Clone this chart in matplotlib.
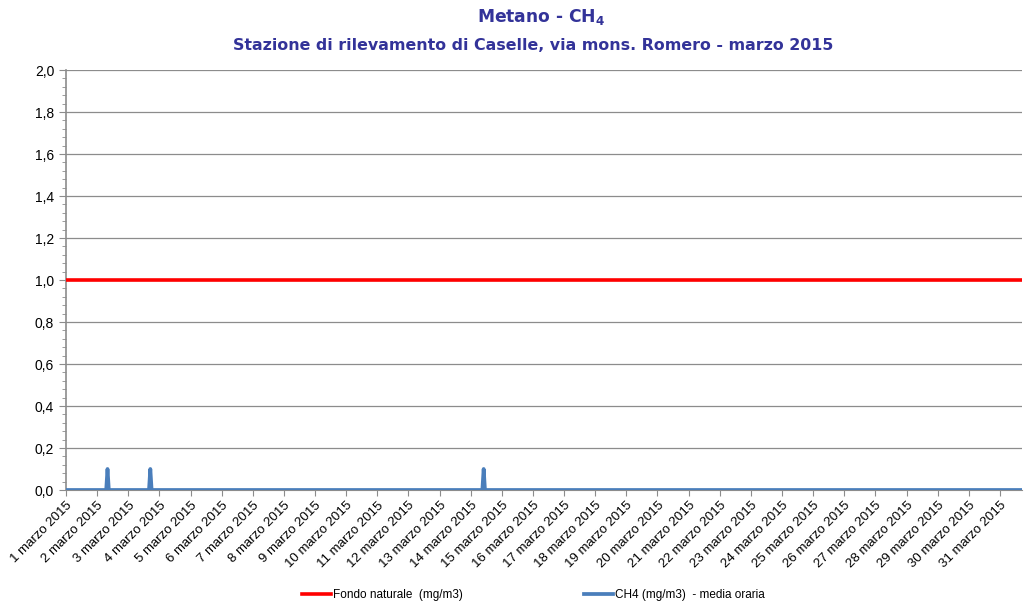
import numpy as np
import matplotlib
matplotlib.use("Agg")
import matplotlib.pyplot as plt
from matplotlib.ticker import MultipleLocator, FuncFormatter

# data: hourly CH4 values for March 2015 (mostly zero)
n_hours = 31 * 24
peak_hours = [32, 65, 322]
peak_values = [0.1, 0.1, 0.1]
fondo_naturale = 1.0
day_labels = ["%d marzo 2015" % d for d in range(1, 32)]

ch4 = np.zeros(n_hours)
ch4[peak_hours] = peak_values
t = np.arange(n_hours) / 24.0

plt.rcParams['font.family'] = ['Liberation Sans', 'DejaVu Sans']
plt.rcParams['mathtext.fontset'] = 'dejavusans'

fig = plt.figure(figsize=(10.24, 6.01), dpi=100)
ax = fig.add_axes([66 / 1024, 1 - 490 / 601, 956 / 1024, 420 / 601])

ax.plot([0, 31], [fondo_naturale, fondo_naturale], color='#ff0000', lw=2.6,
        label='Fondo naturale  (mg/m3)', zorder=3)
ax.plot(t, ch4, color='#4a7ebb', lw=2.7, label='CH4 (mg/m3)  - media oraria', zorder=4)

ax.set_xlim(0, 30.71)
ax.set_ylim(0, 2.0)
ax.yaxis.set_major_locator(MultipleLocator(0.2))
ax.yaxis.set_minor_locator(MultipleLocator(0.04))
ax.yaxis.set_major_formatter(FuncFormatter(lambda v, p: ("%.1f" % v).replace('.', ',')))
ax.grid(axis='y', which='major', color='#8c8c8c', lw=0.9)
ax.set_axisbelow(True)

ax.set_xticks(np.arange(31))
ax.set_xticklabels(day_labels, rotation=45, ha='right', rotation_mode='anchor', fontsize=9.5)
ax.tick_params(axis='x', length=4, color='#8c8c8c', pad=3)
ax.tick_params(axis='y', which='major', length=5, color='#8c8c8c', labelsize=10)
ax.tick_params(axis='y', which='minor', length=3, color='#8c8c8c')

for s in ['top', 'right']:
    ax.spines[s].set_visible(False)
ax.spines['left'].set_color('#8c8c8c')
ax.spines['left'].set_linewidth(1.2)
ax.spines['bottom'].set_color('#8c8c8c')

title_color = '#333399'
fig.text(541 / 1024, 1 - 17 / 601, r'Metano - $\mathbf{CH_4}$', ha='center', va='center',
         fontsize=12.3, fontweight='bold', color=title_color, family='DejaVu Sans')
fig.text(533 / 1024, 1 - 45 / 601, 'Stazione di rilevamento di Caselle, via mons. Romero - marzo 2015',
         ha='center', va='center', fontsize=11.4, fontweight='bold', color=title_color,
         family='DejaVu Sans')

fig.legend(loc='center', bbox_to_anchor=(533.5 / 1024, 1 - 595 / 601), ncol=2, frameon=False,
           fontsize=8.5, handlelength=2.4, handletextpad=0.2, columnspacing=10.3)

fig.savefig('out.png', dpi=100)
